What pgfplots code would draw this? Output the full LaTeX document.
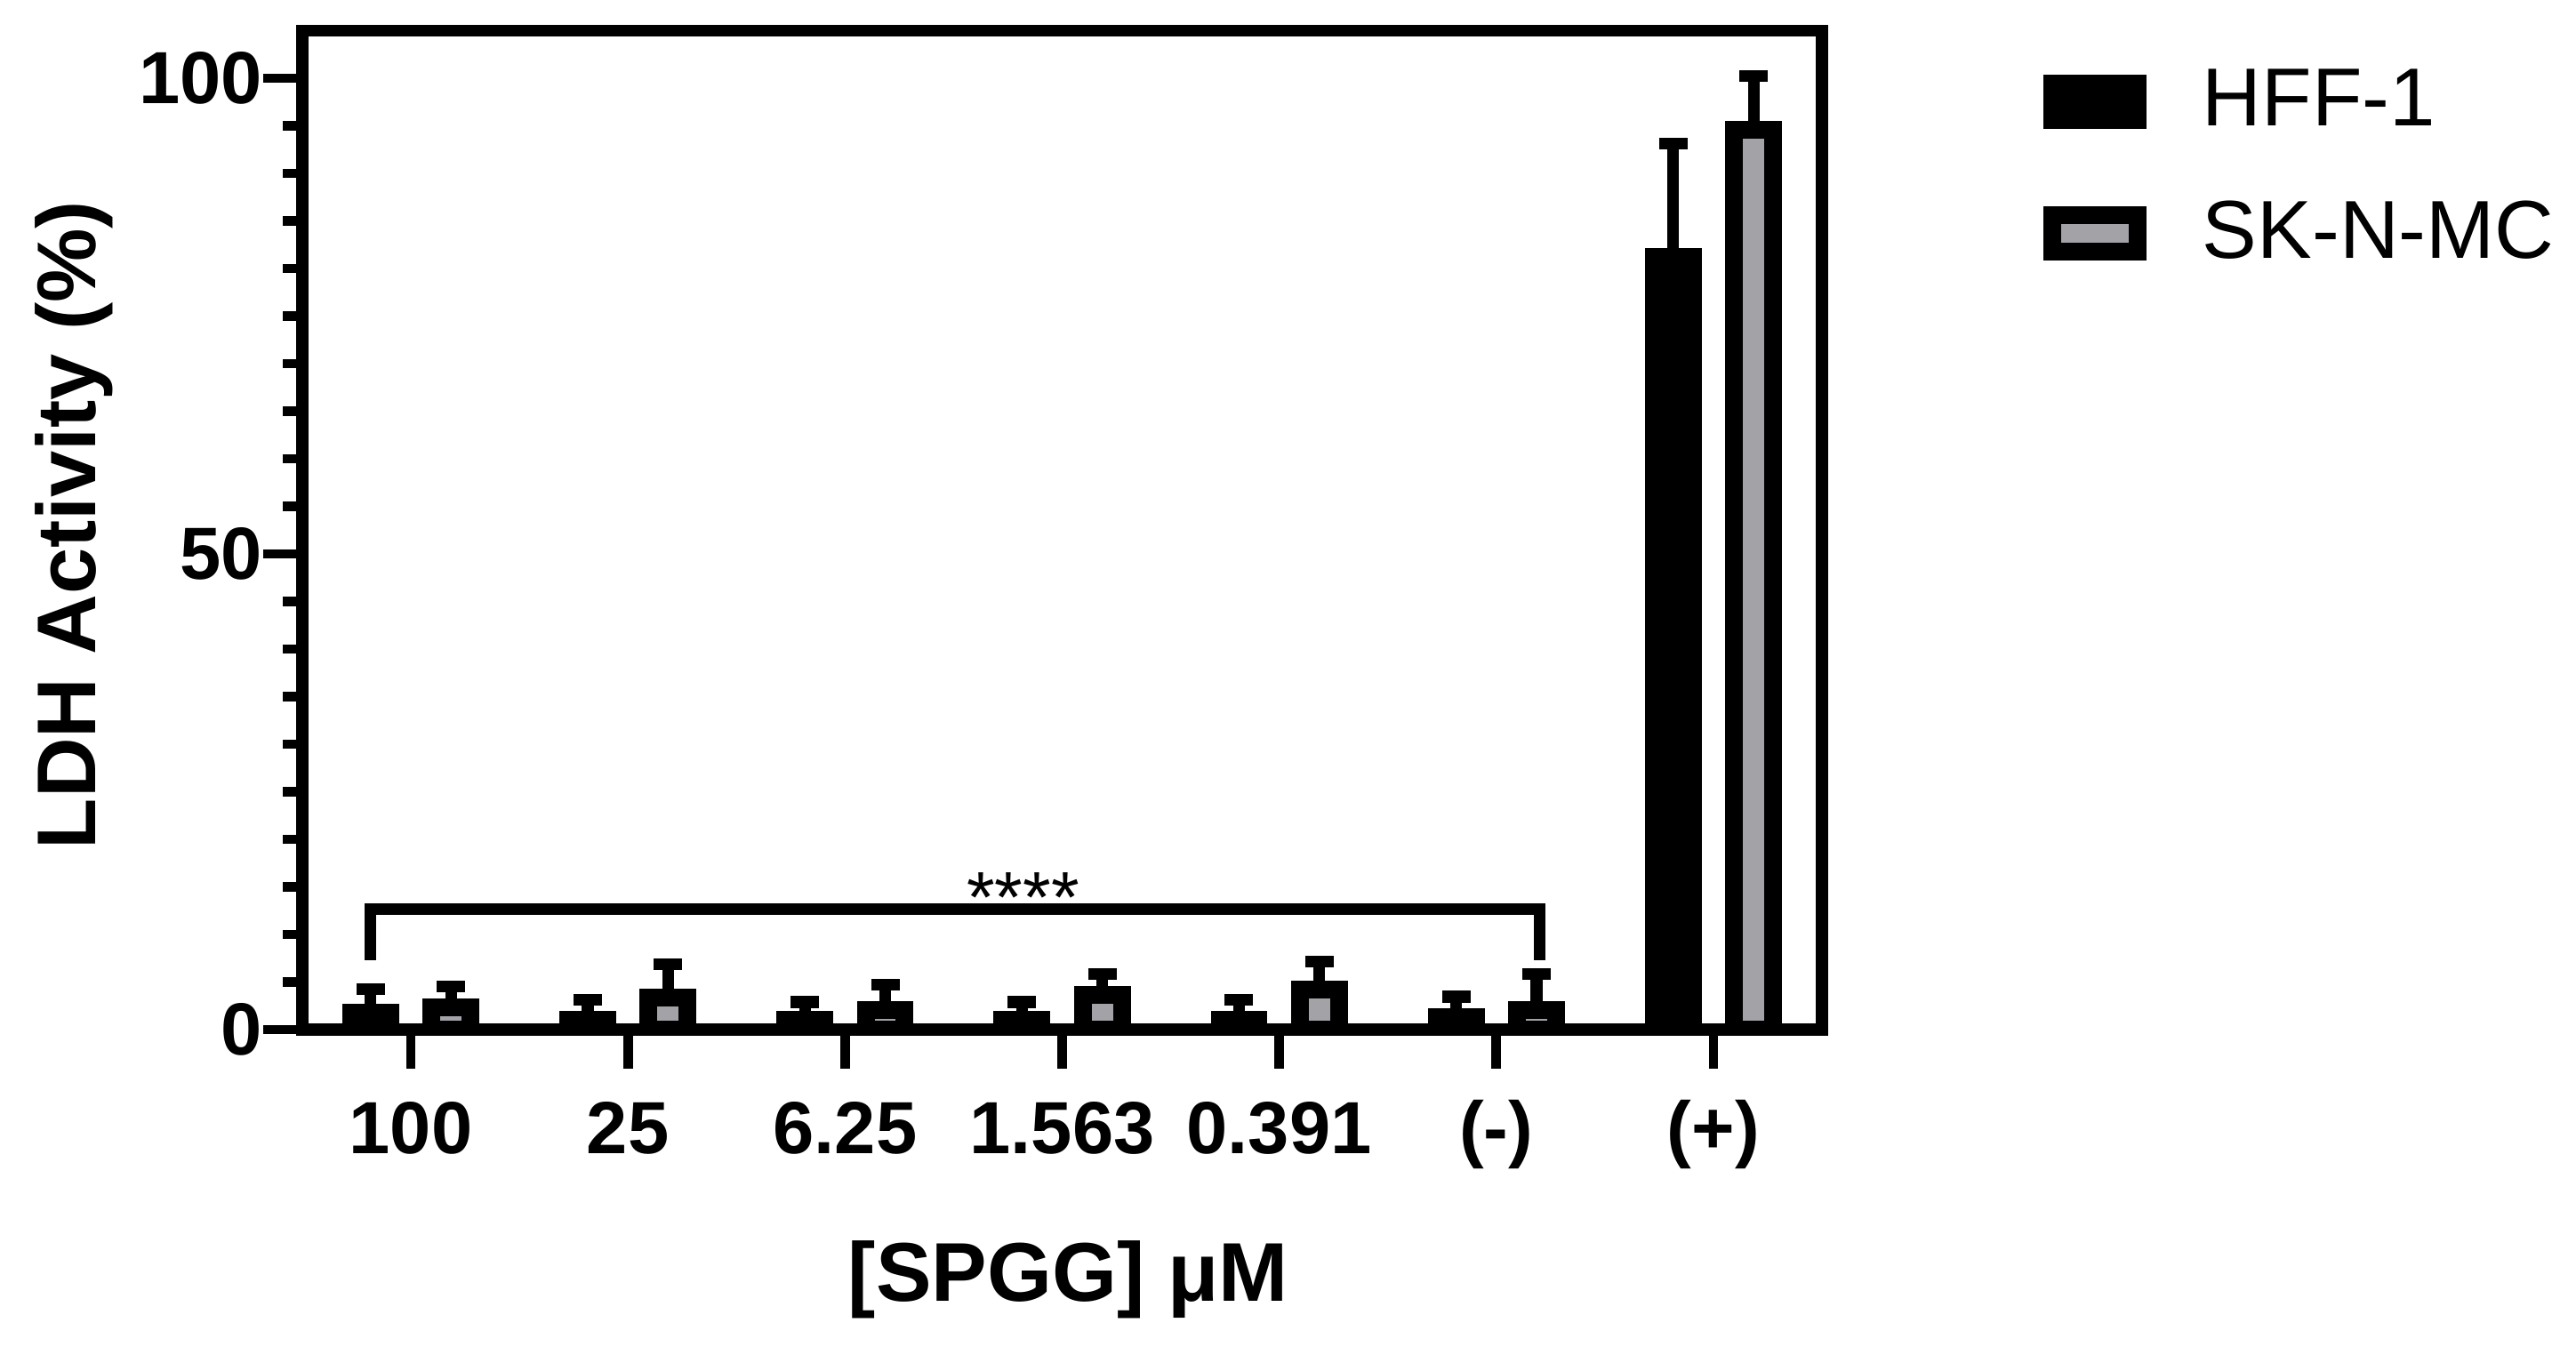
\documentclass[border=0pt]{standalone}
\usepackage{pgfplots}
\pgfplotsset{compat=1.18}
\usepackage{fontspec}
\setmainfont{Liberation Sans}
\definecolor{skgray}{RGB}{163,162,167}
\pgfplotsset{barlegend/.style={legend image code/.code={\draw[##1, line width=3.2pt] (0pt,-3.3pt) rectangle (15.4pt,3.3pt);}}}

\begin{document}
\begin{tikzpicture}
\useasboundingbox (0,0) rectangle (463.52pt,245.28pt);
\begin{axis}[
  at={(54.4pt,60pt)}, anchor=south west,
  width=273.44pt, height=179.76pt, scale only axis,
  ybar, bar width=0.18,
  xmin=-0.5, xmax=6.5, ymin=0, ymax=105,
  axis line style={line width=2.2pt},
  xtick={0,...,6},
  xticklabels={100,25,6.25,1.563,0.391,(-),(+)},
  ytick={0,50,100},
  minor y tick num=9,
  tick align=outside,
  xtick pos=lower, ytick pos=lower,
  major tick length=7pt, minor tick length=3.5pt,
  every tick/.style={black, line width=1.7pt},
  /pgf/number format/assume math mode=true,
  ticklabel style={font=\fontsize{13.3}{16}\selectfont\bfseries},
  yticklabel style={anchor=east, inner sep=0pt},
  xticklabel style={anchor=base, yshift=-15.4pt},
  ylabel={LDH Activity (\%)},
  xlabel={{[SPGG]} μM},
  label style={font=\fontsize{15}{18}\selectfont\bfseries},
  ylabel style={at={(axis description cs:-0.1358,0.505)}, anchor=base},
  xlabel style={at={(axis description cs:0.504,-0.2715)}, anchor=base},
  legend style={draw=none, fill=none, at={(axis description cs:1.145,0.8627)},
    anchor=west, inner sep=0pt, row sep=8pt, column sep=8pt,
    font=\fontsize{14.8}{17}\selectfont},
  legend cell align=left,
]
% HFF-1
\addplot[bar shift=-0.185, fill=black, draw=black, line width=3.2pt,
  barlegend,
  error bars/.cd, y dir=plus, y explicit,
  error bar style={line width=2.1pt, black},
  error mark=-, error mark options={rotate=90, line width=2.1pt, mark size=2.56pt, black}]
coordinates {
(0,1.8) +- (0,2.45)
(1,1.0) +- (0,2.15)
(2,1.0) +- (0,1.9)
(3,1.0) +- (0,1.9)
(4,1.0) +- (0,2.15)
(5,1.3) +- (0,2.15)
(6,81.2) +- (0,11.9)
};
\addlegendentry{HFF-1}
% SK-N-MC
\addplot[bar shift=0.185, fill=skgray, draw=black, line width=3.2pt,
  barlegend,
  error bars/.cd, y dir=plus, y explicit,
  error bar style={line width=2.1pt, black},
  error mark=-, error mark options={rotate=90, line width=2.1pt, mark size=2.56pt, black}]
coordinates {
(0,2.35) +- (0,2.15)
(1,3.4) +- (0,3.45)
(2,2.05) +- (0,2.7)
(3,3.65) +- (0,2.15)
(4,4.2) +- (0,2.95)
(5,2.05) +- (0,3.75)
(6,94.6) +- (0,5.6)
};
\addlegendentry{SK-N-MC}
\draw[line width=2.1pt] (axis cs:-0.185,7.3) |- (axis cs:5.2,12.66) -- (axis cs:5.2,7.3);
\node[font=\fontsize{13}{15}\selectfont, anchor=base] at (axis cs:2.82,11.3) {****};
\end{axis}
\end{tikzpicture}
\end{document}
